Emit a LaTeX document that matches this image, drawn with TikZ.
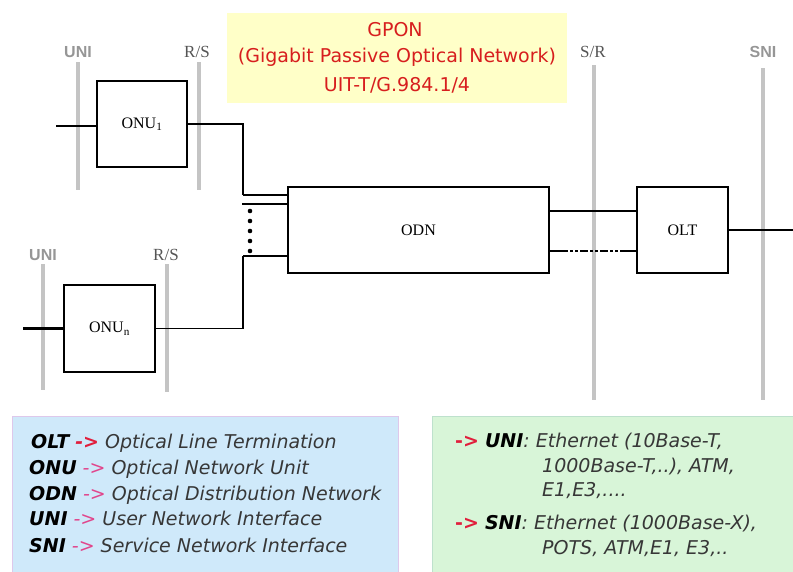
\documentclass[tikz,border=0pt]{standalone}
\usepackage{fontspec}
\setmainfont{Liberation Serif}
\newfontfamily\comic{DejaVu Sans}
\newfontfamily\labsans{Liberation Sans}
\definecolor{gline}{RGB}{196,196,196}
\definecolor{glabc}{RGB}{150,150,150}
\definecolor{slabc}{RGB}{85,85,85}
\definecolor{titlered}{RGB}{215,30,30}
\definecolor{titlefill}{RGB}{255,255,200}
\definecolor{bluefill}{RGB}{207,233,250}
\definecolor{blueedge}{RGB}{222,200,235}
\definecolor{greenfill}{RGB}{216,245,216}
\definecolor{greenedge}{RGB}{190,225,205}
\definecolor{legtext}{RGB}{55,55,55}
\definecolor{arrred}{RGB}{225,30,60}
\definecolor{arrpink}{RGB}{225,70,140}
\begin{document}
\begin{tikzpicture}[x=1pt,y=-1pt,
  blk/.style={draw=black, line width=2pt, fill=white, inner sep=0pt, font=\fontsize{16}{18}\selectfont},
  grl/.style={draw=gline, line width=4pt},
  thk/.style={line width=2.3pt},
  thn/.style={line width=1.1pt},
  glab/.style={font=\labsans\bfseries\fontsize{16}{18}\selectfont, text=glabc, inner sep=0pt},
  slab/.style={font=\fontsize{17}{19}\selectfont, text=slabc, inner sep=0pt},
  ttl/.style={font=\comic\fontsize{19}{21}\selectfont, text=titlered, inner sep=0pt},
  leg/.style={font=\comic\itshape\fontsize{19}{21}\selectfont, anchor=base west, inner sep=0pt, text=legtext},
  dotc/.style={circle, fill=black, inner sep=0pt, minimum size=4.6pt}
]
\useasboundingbox (0,0) rectangle (793,571);
\fill[white] (0,0) rectangle (793,571);

% title
\node[fill=titlefill, minimum width=340pt, minimum height=90pt, inner sep=0pt] (tbox) at (397,57.5) {};
\node[ttl] (t1) at (395,30) {GPON};
\node[ttl] (t2) at (397,57) {(Gigabit Passive Optical Network)};
\node[ttl] (t3) at (397,85) {UIT-T/G.984.1/4};

% interface lines
\draw[grl] (78,62) -- (78,190);
\draw[grl] (199,62) -- (199,190);
\draw[grl] (43,264) -- (43,390);
\draw[grl] (167,264) -- (167,392);
\draw[grl] (594,65) -- (594,400);
\draw[grl] (763,68) -- (763,400);
\node[glab] (uni1) at (78,52) {UNI};
\node[slab] (rs1) at (197,52) {R/S};
\node[glab] (uni2) at (43,255) {UNI};
\node[slab] (rs2) at (166,255) {R/S};
\node[slab] (sr) at (593,52) {S/R};
\node[glab] (sni) at (763,52) {SNI};

% boxes
\node[blk, minimum width=90pt, minimum height=86pt] (onu1) at (142,124) {ONU\textsubscript{1}};
\node[blk, minimum width=91pt, minimum height=87pt] (onun) at (109.5,328.5) {ONU\textsubscript{n}};
\node[blk, minimum width=261pt, minimum height=86pt] (odn) at (418.5,230) {ODN};
\node[blk, minimum width=91pt, minimum height=86pt] (olt) at (682.5,230) {OLT};

% connectors
\coordinate (in1) at (56,126);
\coordinate (inn) at (23,328.5);
\coordinate (out) at (793,230);
\draw[thk] (in1) -- (in1 -| onu1.west);
\draw[thk] (inn) -- (onun.west);
\draw[thk] (olt.east) -- (out);
\coordinate (s1) at (243,195);
\coordinate (s2) at (242,204);
\coordinate (s3) at (243,256);
\draw[thk] (onu1.east) -| (s1);
\draw[thn] (s1) -- (s1 -| odn.west);
\draw[thk] (s2) -- (s2 -| odn.west);
\draw[thn] (s3) -- (s3 -| odn.west);
\draw[thk] (s3) -- (s3 |- onun.east);
\draw[thn] (s3 |- onun.east) -- (onun.east);
\foreach \i/\yy in {1/211,2/221,3/231,4/241,5/251}
  \node[dotc] (d\i) at (250,\yy) {};
\draw[thn] (odn.east |- 0,211) -- (olt.west |- 0,211);
\draw[thk, dash pattern=on 18pt off 2pt on 3pt off 2pt on 3pt off 2pt on 8pt off 2pt on 3pt off 2pt on 3pt off 2pt on 8pt off 2pt on 3pt off 2pt on 3pt off 2pt on 40pt]
  (odn.east |- 0,251) -- (olt.west |- 0,251);

% legends
\fill[bluefill, draw=blueedge, line width=1pt] (12,416) rectangle (398,575);
\fill[greenfill, draw=greenedge, line width=1pt] (432,416) rectangle (797,575);

\node[leg] (l1) at (31,448) {\textcolor{black}{\bfseries OLT} \textcolor{arrred}{\bfseries ->} Optical Line Termination};
\node[leg] (l2) at (29,474) {\textcolor{black}{\bfseries ONU} \textcolor{arrpink}{->} Optical Network Unit};
\node[leg] (l3) at (29,500) {\textcolor{black}{\bfseries ODN} \textcolor{arrpink}{->} Optical Distribution Network};
\node[leg] (l4) at (29,525) {\textcolor{black}{\bfseries UNI} \textcolor{arrpink}{->} User Network Interface};
\node[leg] (l5) at (29,552) {\textcolor{black}{\bfseries SNI} \textcolor{arrpink}{->} Service Network Interface};

\node[leg] (r1) at (455,447) {\textcolor{arrred}{\bfseries\upshape ->} \textcolor{black}{\bfseries UNI}: Ethernet (10Base-T,};
\node[leg] (r2) at (542,472) {1000Base-T,..), ATM,};
\node[leg] (r3) at (542,496) {E1,E3,....};
\node[leg] (r4) at (455,529) {\textcolor{arrred}{\bfseries\upshape ->} \textcolor{black}{\bfseries SNI}: Ethernet (1000Base-X),};
\node[leg] (r5) at (542,554) {POTS, ATM,E1, E3,..};
\end{tikzpicture}
\end{document}
